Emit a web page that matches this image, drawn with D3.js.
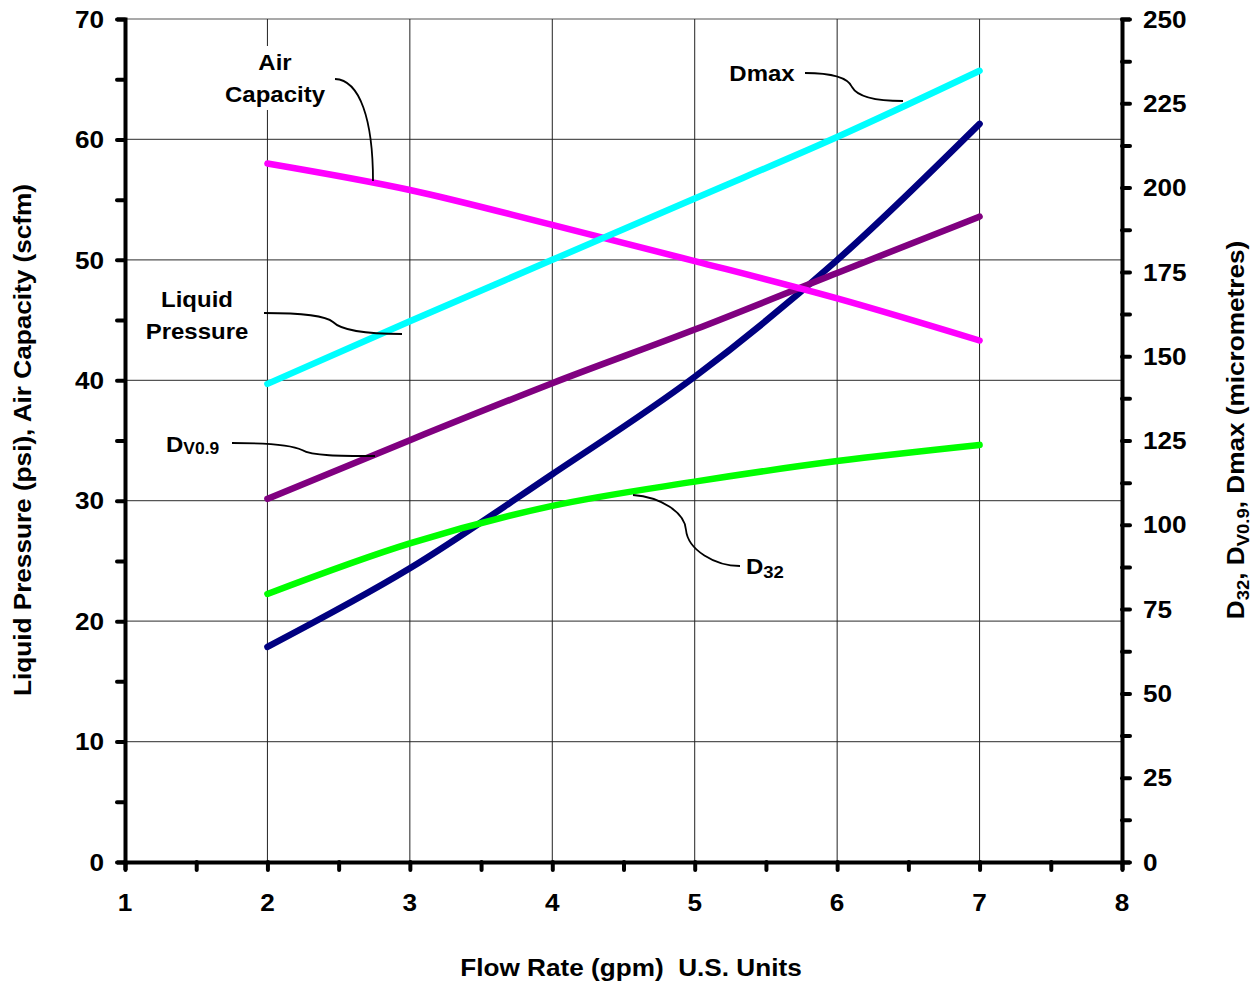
<!DOCTYPE html>
<html><head><meta charset="utf-8">
<script src="https://cdn.jsdelivr.net/npm/d3@7"></script>
<style>
body{margin:0;background:#fff;}
text{font-family:"Liberation Sans",Arial,sans-serif;font-weight:bold;fill:#000;}
</style></head><body>
<svg id="c" width="1259" height="986"></svg>
<script>
const flowRate = [2, 3, 4, 5, 6, 7];
const airCapacity = [58.0, 55.8, 52.9, 49.9, 46.8, 43.3];      // left axis (scfm)
const liquidPressure = [39.7, 44.9, 50.0, 55.1, 60.2, 65.7];   // left axis (psi)
const dv09 = [107.7, 125.1, 142.0, 157.9, 174.7, 191.4];       // right axis (µm)
const d32 = [79.5, 94.5, 105.6, 112.8, 118.9, 123.7];          // right axis (µm)
const dmaxLike = [63.8, 87.1, 115.0, 143.9, 178.5, 218.9];     // right axis (µm), navy curve
const xTicks = [1, 2, 3, 4, 5, 6, 7, 8];
const leftTicks = [0, 10, 20, 30, 40, 50, 60, 70];
const rightTicks = [0, 25, 50, 75, 100, 125, 150, 175, 200, 225, 250];

const svg = d3.select("#c");
const L = 125, R = 1122, T = 19, B = 862;
const SX = 1.09;
const x = d3.scaleLinear().domain([1, 8]).range([L, R]);
const yL = d3.scaleLinear().domain([0, 70]).range([B, T]);
const yR = d3.scaleLinear().domain([0, 250]).range([B, T]);

// gridlines
const g = svg.append("g");
g.selectAll("line.h").data(leftTicks.slice(1)).join("line")
  .attr("x1", L).attr("x2", R).attr("y1", d => yL(d)).attr("y2", d => yL(d))
  .attr("stroke", "#555").attr("stroke-width", 1.2);
g.selectAll("line.v").data(xTicks.slice(1, -1)).join("line")
  .attr("x1", d => x(d)).attr("x2", d => x(d)).attr("y1", T).attr("y2", B)
  .attr("stroke", "#222").attr("stroke-width", 1);

// series
const line = (ys, sc) => d3.line().x((d, i) => x(flowRate[i])).y(d => sc(d)).curve(d3.curveMonotoneX)(ys);
const series = [
  {v: dmaxLike, s: yR, c: "#000080"},
  {v: dv09, s: yR, c: "#800080"},
  {v: airCapacity, s: yL, c: "#ff00ff"},
  {v: liquidPressure, s: yL, c: "#00ffff"},
  {v: d32, s: yR, c: "#00ff00"}
];
svg.append("g").selectAll("path").data(series).join("path")
  .attr("d", d => line(d.v, d.s)).attr("fill", "none").attr("stroke", d => d.c)
  .attr("stroke-width", 6.5).attr("stroke-linecap", "round").attr("stroke-linejoin", "round");

// axes
const ax = svg.append("g");
const leftAxis = d3.axisLeft(yL).tickValues(d3.range(0, 71, 5)).tickSize(8).tickFormat("");
const rightAxis = d3.axisRight(yR).tickValues(d3.range(0, 251, 12.5)).tickSize(8).tickFormat("");
const bottomAxis = d3.axisBottom(x).tickValues(d3.range(1, 8.01, 0.5)).tickSize(8).tickFormat("");
[[leftAxis, `translate(${L},0)`], [rightAxis, `translate(${R},0)`], [bottomAxis, `translate(0,${B})`]].forEach(([a, t]) => {
  const gg = ax.append("g").attr("transform", t).call(a);
  gg.select(".domain").attr("stroke", "#000").attr("stroke-width", 4);
  gg.selectAll(".tick line").attr("stroke", "#000").attr("stroke-width", 4).attr("stroke-linecap", "round");
});

// tick labels
const fs = 24, fa = 22;
svg.append("g").selectAll("text").data(leftTicks).join("text")
  .attr("transform", d => `translate(104,${yL(d)}) scale(${SX},1)`).attr("dy", "0.36em").attr("text-anchor", "end")
  .attr("font-size", fs).text(d => d);
svg.append("g").selectAll("text").data(rightTicks).join("text")
  .attr("transform", d => `translate(1143,${yR(d)}) scale(${SX},1)`).attr("dy", "0.36em").attr("text-anchor", "start")
  .attr("font-size", fs).text(d => d);
svg.append("g").selectAll("text").data(xTicks).join("text")
  .attr("transform", d => `translate(${x(d)},911) scale(${SX},1)`).attr("text-anchor", "middle")
  .attr("font-size", fs).text(d => d);

// axis titles
svg.append("text").attr("transform", `translate(31,440) rotate(-90) scale(${SX},1)`).attr("text-anchor", "middle")
  .attr("font-size", fs).text("Liquid Pressure (psi), Air Capacity (scfm)");
const rt = svg.append("text").attr("transform", `translate(1244,430) rotate(-90) scale(${SX},1)`).attr("text-anchor", "middle")
  .attr("font-size", fs);
rt.append("tspan").text("D");
rt.append("tspan").attr("font-size", 17).attr("dy", 5).text("32");
rt.append("tspan").attr("dy", -5).text(", D");
rt.append("tspan").attr("font-size", 17).attr("dy", 5).text("V0.9");
rt.append("tspan").attr("dy", -5).text(", Dmax (micrometres)");
svg.append("text").attr("transform", `translate(631,976) scale(${SX},1)`).attr("text-anchor", "middle")
  .attr("font-size", fs).style("white-space", "pre").text("Flow Rate (gpm)  U.S. Units");

// annotations
const ann = svg.append("g");
const at = (tx, ty, s, anchor) => ann.append("text")
  .attr("transform", `translate(${tx},${ty}) scale(${SX},1)`).attr("text-anchor", anchor || "middle")
  .attr("font-size", fa).text(s);
ann.append("rect").attr("x", 220).attr("y", 46).attr("width", 110).attr("height", 64).attr("fill", "#fff");
at(275, 70, "Air");
at(275, 102, "Capacity");
at(762, 81, "Dmax");
at(197, 307, "Liquid");
at(197, 339, "Pressure");
const dv = ann.append("text").attr("transform", `translate(166,452) scale(${SX},1)`).attr("font-size", fa);
dv.append("tspan").text("D");
dv.append("tspan").attr("font-size", 16).attr("dy", 2).text("V0.9");
const dd = ann.append("text").attr("transform", `translate(746,574) scale(${SX},1)`).attr("font-size", fa);
dd.append("tspan").text("D");
dd.append("tspan").attr("font-size", 17).attr("dy", 4).text("32");

const leaders = [
  "M335,79 C360,80 373,120 373,181",
  "M805,73 C835,73 848,78 852,87 C858,98 880,101 903,101",
  "M264,313 C300,313 325,315 333,322 C342,331 370,334 402,334",
  "M232,443 C262,443 290,444 302,450 C312,456 340,456 375,456",
  "M633,495 C660,497 685,512 686,530 C688,550 715,566 740,566"
];
ann.selectAll("path").data(leaders).join("path").attr("d", d => d)
  .attr("fill", "none").attr("stroke", "#000").attr("stroke-width", 1.8);
</script></body></html>
